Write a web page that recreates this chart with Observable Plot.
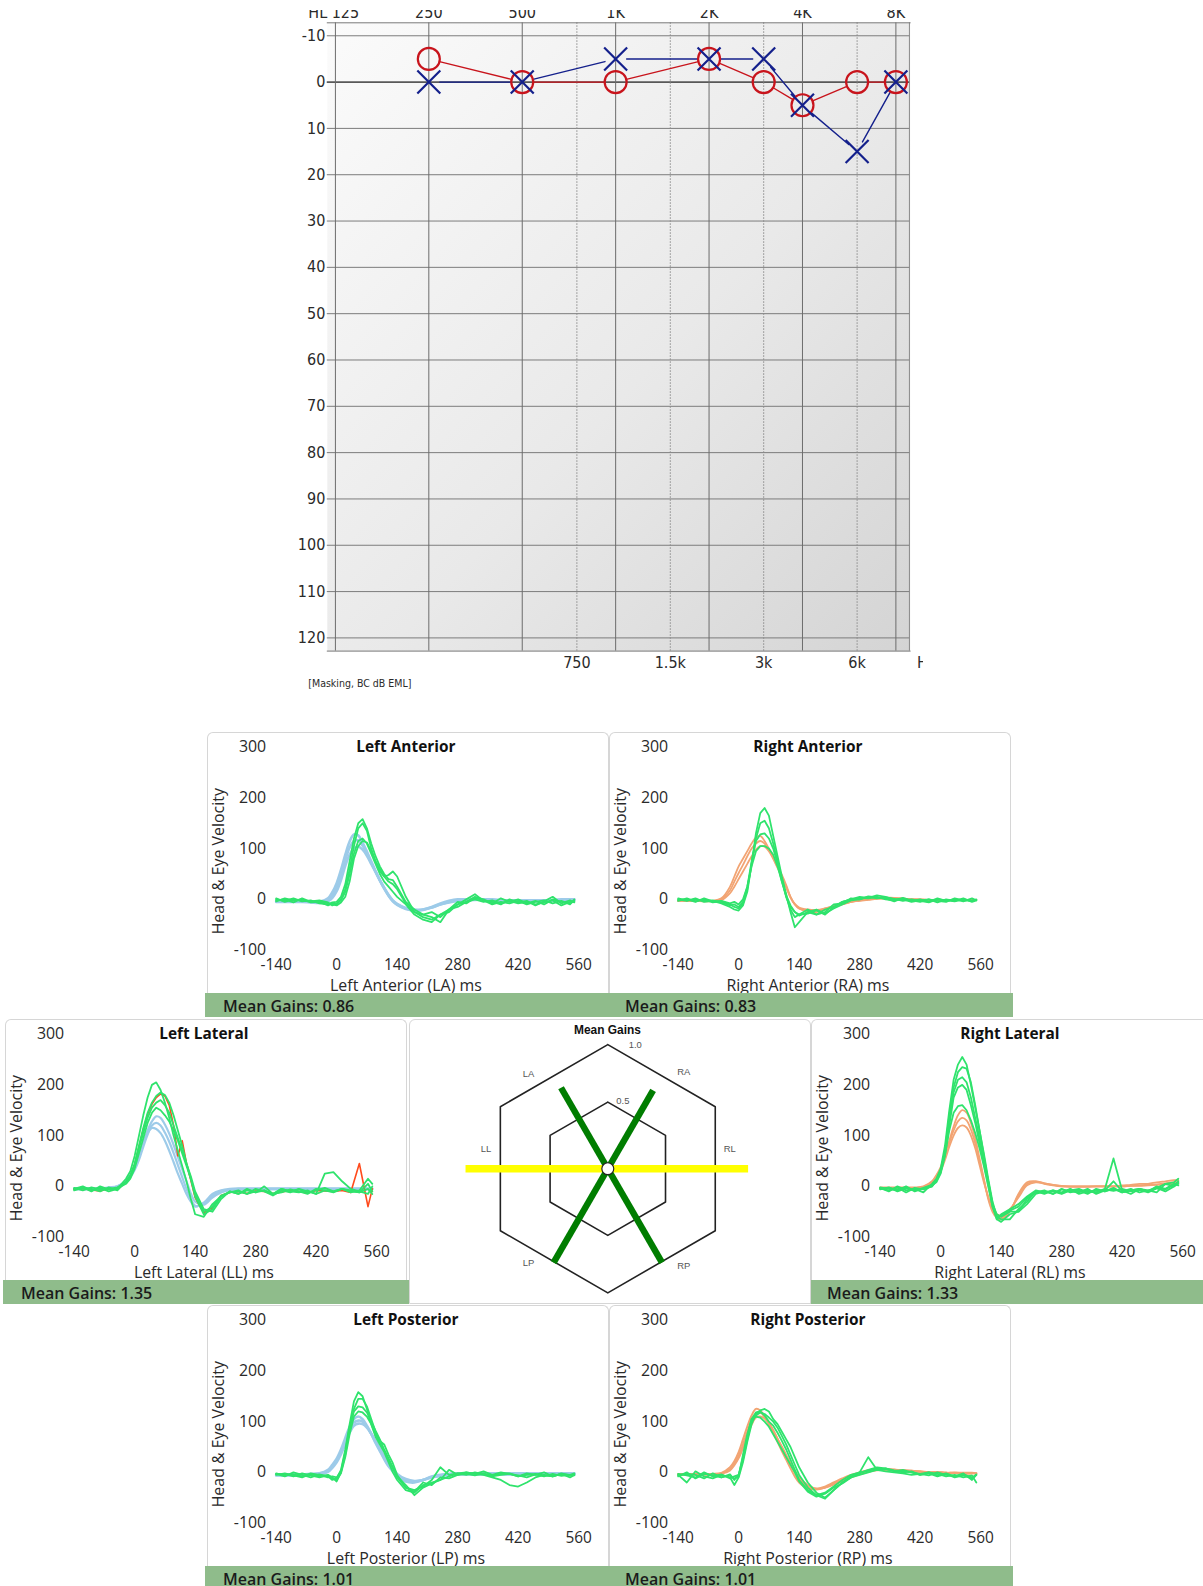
<!DOCTYPE html>
<html>
<head>
<meta charset="utf-8">
<script src="https://cdn.jsdelivr.net/npm/d3@7"></script>
<script src="https://cdn.jsdelivr.net/npm/@observablehq/plot@0.6"></script>
<style>
  html, body { margin: 0; padding: 0; background: #fff; }
  #page { position: relative; width: 1203px; height: 1586px; overflow: hidden; background: #fff; }
  #audio { position: absolute; left: 0; top: 0; width: 923px; height: 700px; overflow: hidden; clip-path: inset(10px 0 0 0); }
  #audio svg { position: absolute; left: 0; top: 0; }
  .panel { position: absolute; width: 402px; height: 285px; box-sizing: border-box; background: #fff;
           border: 1.5px solid #d6d6d6; border-bottom: none; border-radius: 6px 6px 0 0; }
  .panel svg { position: absolute; left: -1.5px; top: -1.5px; }
  .bar { position: absolute; left: -3px; right: -3px; bottom: 0; height: 24px; background: #8fbc8b;
         font: 600 16px "Open Sans", sans-serif; color: #1b1b1b; line-height: 26px; padding-left: 18px; box-sizing: border-box; white-space: nowrap; }
</style>
</head>
<body>
<div id="page"><div id="audio"></div></div>
<script>
// ---------------- Audiogram data ----------------
const FREQS = [250, 500, 1000, 2000, 3000, 4000, 6000, 8000];
const RIGHT_DB = [-5, 0, 0, -5, 0, 5, 0, 0];      // red circles
const LEFT_DB  = [0, 0, -5, -5, -5, 5, 15, 0];    // blue crosses
const OCTAVE_FREQS = [125, 250, 500, 1000, 2000, 4000, 8000];
const TOP_LABELS = ["HL 125", "250", "500", "1K", "2K", "4K", "8K"];
const MID_FREQS = [750, 1500, 3000, 6000];
const MID_LABELS = ["750", "1.5k", "3k", "6k"];
const DB_TICKS = [-10, 0, 10, 20, 30, 40, 50, 60, 70, 80, 90, 100, 110, 120];
const AUDIO_NOTE = "[Masking, BC dB EML]";

// ---------------- vHIT data ----------------
const TIME_MS = [-140,-120,-100,-80,-60,-40,-20,-10,0,10,20,30,40,50,60,70,80,90,100,110,120,130,140,160,180,200,220,240,260,280,300,320,340,360,380,400,420,440,460,480,500,520,540,550];
const X_TICKS = [-140, 0, 140, 280, 420, 560];
const Y_TICKS = [-100, 0, 100, 200, 300];
const Y_TITLE = "Head & Eye Velocity";

const LA_HEAD = [
  [-3,-3,-3,-3,-4,-5,2,14, 32,58,88,114,128,126,112,94,75,56,38,22,8,-3,-10, -18,-22,-20,-15,-8,-3,0,0,0,0,0,-2,-2,-2,-2,-2,-2,-2,0,0,0],
  [-4,-4,-4,-4,-5,-6,-1,8, 24,48,78,102,115,116,106,90,72,54,37,21,7,-4,-11, -19,-22,-21,-16,-10,-5,-2,-1,0,0,-1,-2,-3,-3,-3,-3,-2,-2,-1,-1,-1],
  [-5,-5,-5,-5,-6,-7,-4,3, 16,38,66,88,100,104,98,86,70,54,38,23,9,-2,-9, -17,-20,-20,-16,-10,-6,-3,-2,-1,-1,-2,-3,-4,-4,-3,-3,-3,-2,-2,-2,-2]
];
const LA_EYE = [
  [0,-3,2,-4,-2,-8,-10,-6, -5,5,30,75,120,150,158,140,110,85,65,50,40,38,25, -5,-20,-30,-25,-35,-20,-15,-5,5,0,-8,2,-5,0,-8,-3,-10,0,-5,-8,-3],
  [-4,2,-2,0,-6,-5,-12,-8, -10,0,20,60,105,140,150,135,100,75,55,45,48,55,45, 5,-25,-35,-40,-30,-25,-10,0,10,-3,-5,-10,0,-6,-3,-12,-4,5,-8,-2,-6],
  [2,-5,0,-3,-4,-2,-6,-12, -8,-2,15,50,90,115,120,110,90,70,50,35,25,15,5, -10,-30,-40,-45,-30,-20,-5,-8,3,-2,-10,-5,-8,-3,-10,-5,-2,-8,-3,-10,0],
  [-2,0,-6,2,-5,-3,-8,-10, -12,-6,5,35,80,105,115,112,95,75,60,45,35,30,20, -8,-25,-30,-35,-45,-20,-10,-5,0,-5,-2,-8,-3,-8,-5,-10,-6,-2,-12,-5,-4]
];

const RA_HEAD = [
  [-2,-2,-2,-3,-3,2,25,45, 65,80,95,110,122,125,115,100,82,65,48,28,5,-10,-18, -24,-25,-20,-15,-10,-5,-2,0,2,3,3,2,0,0,-1,-1,-1,-1,-1,-1,-1],
  [-3,-3,-3,-3,-3,0,18,35, 52,68,85,100,110,115,110,98,82,64,45,25,4,-10,-18, -22,-22,-18,-14,-9,-5,-2,0,2,2,2,1,0,0,-1,-1,-1,-1,-1,-1,-1],
  [-3,-3,-3,-4,-4,-2,12,25, 40,55,70,85,98,105,104,95,80,62,44,24,4,-9,-16, -20,-21,-18,-13,-9,-5,-3,-1,1,2,1,0,0,-1,-1,-1,-1,-1,-1,-1,-1]
];
const RA_EYE = [
  [0,-3,2,-5,-3,-8,-15,-20, -22,-12,15,70,130,170,180,165,125,85,45,10,-25,-55,-45, -25,-30,-20,-15,-5,0,5,3,8,5,0,2,-3,0,-5,2,-3,0,-4,2,-2],
  [-3,2,-4,0,-6,-4,-10,-15, -18,-8,20,70,120,150,155,140,110,75,40,5,-20,-35,-30, -20,-30,-25,-10,-8,2,0,6,4,2,-4,3,-2,-5,0,-3,-5,2,-2,-3,0],
  [2,-2,0,-3,-2,-6,-12,-10, -15,-5,25,75,115,128,130,120,100,70,35,5,-15,-25,-30, -28,-22,-30,-15,-5,0,3,2,5,0,-2,0,-5,-2,0,-6,0,-3,2,-5,-2],
  [-1,0,-5,2,-4,-3,-8,-5, -10,0,25,65,95,105,105,100,88,65,35,8,-12,-25,-32, -25,-20,-28,-18,-10,-2,0,5,2,4,1,-3,0,-3,-6,0,-2,-4,0,-3,-1]
];

const LL_HEAD = [
  [-5,-5,-5,-5,-3,0,10,20, 35,58,85,110,128,138,135,122,104,82,58,34,10,-14,-30, -36,-22,-12,-7,-5,-5,-5,-5,-5,-5,-5,-5,-5,-5,-5,-5,-5,-5,-5,-5,-5],
  [-6,-6,-6,-6,-4,-2,8,18, 32,52,78,102,120,125,120,106,88,66,42,18,-5,-25,-38, -35,-18,-10,-7,-6,-6,-6,-6,-6,-6,-6,-6,-6,-6,-6,-6,-6,-6,-6,-6,-6],
  [-4,-4,-4,-4,-2,0,12,25, 40,60,85,105,115,113,105,90,70,48,25,5,-15,-30,-40, -32,-15,-8,-5,-4,-4,-4,-4,-4,-4,-4,-4,-4,-4,-4,-4,-4,-4,-4,-4,-4]
];
const LL_EYE = [
  [-5,0,-8,-3,-10,-5,15,30, 60,100,140,175,200,205,190,165,135,100,70,40,10,-25,-55, -60,-35,-20,-10,-15,-5,-12,-8,-15,-5,-10,-6,-12,-8,-3,-10,-5,-8,-12,5,-10],
  [-8,-3,-5,-10,-2,-8,10,22, 45,80,115,145,165,178,185,180,165,140,110,80,45,15,-20, -55,-45,-20,-12,-8,-15,-10,-8,-15,-12,-6,-10,-15,-5,-8,-12,-5,-10,-12,-5,-15],
  [-3,-8,-2,-6,-5,-2,8,20, 40,75,105,135,155,165,170,160,145,120,95,70,45,20,-10, -45,-50,-25,-10,-15,-8,-12,0,-15,-5,-10,-12,-8,-15,25,28,10,-5,-10,-15,0],
  [-5,-2,-10,0,-6,-4,5,15, 35,65,95,125,145,155,150,140,128,110,90,65,40,15,-15, -50,-40,-18,-12,-10,-15,-5,-10,-18,-8,-12,-5,-10,-15,-8,-10,-5,-12,-8,15,5]
];
const LL_RED = [
  [-6,-4,-7,-9,-4,-6,9,20, 42,78,112,142,162,175,182,178,160,120,60,90,45,12,-22, -52,-42,-18,-12,-10,-14,-9,-10,-14,-11,-8,-10,-13,-8,-9,-10,-8,-12,45,-40,-5]
];

const RL_HEAD = [
  [-2,-2,-2,-2,-2,0,10,22, 38,62,90,118,140,150,145,125,95,55,15,-25,-50,-62,-65, -50,-15,8,10,5,2,0,0,0,0,0,0,0,2,3,5,5,8,10,12,12],
  [-3,-3,-3,-3,-3,-1,8,20, 35,58,85,110,128,135,130,112,85,50,12,-22,-45,-58,-62, -48,-18,5,10,6,3,0,-1,-1,-1,0,0,0,0,1,2,3,4,6,8,8],
  [-3,-3,-3,-3,-3,-2,6,17, 30,52,78,100,115,120,116,100,75,42,8,-20,-42,-55,-58, -45,-22,2,8,6,3,1,0,0,0,0,0,0,0,1,1,2,3,4,5,6]
];
const RL_EYE = [
  [-3,-10,0,-8,-5,-12,5,15, 35,80,150,210,240,255,240,200,155,110,60,10,-35,-65,-70, -55,-50,-35,-15,-10,-15,-5,-12,-8,-15,-5,-10,-3,-12,-8,-5,-10,-3,5,0,10],
  [-6,-2,-10,-4,-8,-3,3,12, 30,70,140,195,225,235,232,205,160,110,65,15,-30,-60,-65, -65,-45,-30,-10,-15,-8,-12,-5,-15,-10,-12,-5,55,-8,-15,-5,-8,-12,5,8,15],
  [-4,-8,-2,-12,-3,-6,0,10, 28,65,130,185,210,215,205,175,135,95,55,10,-35,-55,-60, -50,-50,-25,-12,-8,-15,-6,-10,-12,-5,-15,-8,10,-10,-5,-12,-8,-3,-10,0,5],
  [-2,-5,-8,0,-10,-4,2,8, 25,60,120,175,195,200,190,160,125,85,45,5,-40,-65,-55, -45,-35,-20,-8,-12,-10,-15,-8,-5,-12,-8,-10,-5,-12,-8,-5,-10,0,-5,5,2],
  [-5,-3,-6,-2,-8,-5,0,12, 30,62,110,145,158,160,150,130,105,75,40,0,-40,-60,-58, -48,-40,-22,-10,-12,-8,-14,-6,-10,-8,-12,-6,-9,-5,-10,-7,-12,-4,-6,3,8]
];

const LP_HEAD = [
  [-4,-4,-4,-4,-3,-2,5,15, 27,45,68,90,105,110,105,92,76,58,42,26,12,2,-8, -18,-20,-15,-8,-5,-3,-2,-2,-2,-2,-2,-2,-2,-2,-2,-2,-2,-2,-2,-2,-2],
  [-5,-5,-5,-5,-4,-3,3,12, 24,40,62,84,98,102,100,90,76,60,44,28,14,4,-5, -15,-18,-15,-9,-6,-4,-3,-3,-3,-3,-3,-3,-3,-3,-3,-3,-3,-3,-3,-3,-3],
  [-6,-6,-6,-6,-5,-4,1,9, 20,36,56,78,92,96,95,88,76,62,47,32,18,7,-3, -13,-17,-15,-10,-7,-5,-4,-4,-4,-4,-4,-4,-4,-4,-4,-4,-4,-4,-4,-4,-4]
];
const LP_EYE = [
  [-3,-8,0,-5,-10,-4,-8,-15, -12,5,45,95,140,158,150,125,95,70,55,40,20,0,-15, -35,-40,-25,-20,-15,5,-5,0,-3,2,-5,0,-3,-8,-2,-5,0,-8,-3,-10,-5],
  [-5,-2,-6,-10,-3,-8,-5,-10, -18,0,35,85,125,145,145,130,105,80,62,55,35,18,-5, -30,-35,-28,-15,10,-5,-2,-5,0,-4,-6,-3,-2,-8,-5,-3,-6,-8,-2,-6,-4],
  [-2,-6,-4,-8,-2,-5,-10,-8, -10,2,40,90,120,130,128,118,100,82,65,45,28,10,-8, -25,-45,-30,-22,-15,-8,-2,0,-3,-5,-10,-15,-25,-28,-20,-10,-5,-8,-3,-5,-2],
  [-4,-3,-8,-2,-6,-10,-6,-12, -15,-2,30,75,110,120,118,110,95,75,58,42,25,8,-10, -30,-38,-20,-25,-10,-12,-5,-3,-6,-2,-8,-5,-3,-6,-10,-4,-8,-3,-7,-5,-6]
];

const RP_HEAD = [
  [-3,-3,-3,-3,-3,-1,10,22, 40,65,90,112,125,122,110,95,78,60,42,25,8,-8,-20, -32,-33,-28,-20,-12,-5,0,4,6,6,5,3,2,1,0,0,-1,-1,-1,-1,-2],
  [-4,-4,-4,-4,-4,-2,6,18, 33,55,80,102,116,118,110,98,83,66,50,33,16,0,-14, -28,-34,-30,-22,-15,-8,-2,2,5,6,5,4,3,1,0,0,-1,-1,-2,-2,-2],
  [-4,-4,-4,-4,-4,-3,4,14, 28,48,72,94,108,110,106,96,82,66,50,34,18,3,-10, -25,-32,-30,-24,-17,-10,-4,1,4,5,5,4,3,2,0,0,-1,-1,-2,-2,-2]
];
const RP_EYE = [
  [-5,-20,2,-8,-12,-5,-10,-25, -10,20,60,95,115,122,125,120,105,95,80,65,50,30,10, -20,-40,-50,-35,-20,-10,0,30,5,8,2,5,0,-5,0,-3,-8,-5,-10,-6,-20],
  [-8,0,-12,-3,-6,-10,-4,-15, -5,30,70,105,118,120,112,100,92,78,62,45,25,5,-15, -35,-45,-40,-28,-15,-5,0,3,8,6,3,0,2,-5,-2,-8,-3,-10,-6,-12,-4],
  [-3,-6,-10,0,-8,-4,-12,-8, -5,25,65,100,112,118,115,108,100,88,72,55,35,15,-5, -30,-45,-52,-35,-20,-8,-2,5,10,8,4,2,0,-3,-6,0,-5,-8,-2,-15,-5],
  [-6,-3,-5,-12,-2,-10,-6,-12, -8,35,75,105,110,108,100,90,75,60,45,30,15,0,-18, -38,-48,-42,-30,-22,-10,-5,0,5,2,0,-2,-5,-3,0,-6,-2,-8,-4,-10,-5]
];

const CANALS = ["LA", "RA", "LL", "RL", "LP", "RP"];
const CANAL_TITLES = ["Left Anterior", "Right Anterior", "Left Lateral", "Right Lateral", "Left Posterior", "Right Posterior"];
const MEAN_GAINS = [0.86, 0.83, 1.35, 1.33, 1.01, 1.01];
const RING_GAINS = [0.5, 1.0];
const RING_LABELS = ["0.5", "1.0"];

// ---------------- styles ----------------
const RED = "#c8141c", NAVY = "#14208c";
const BLUE_HEAD = "#9dcbe9", ORANGE_HEAD = "#f2a473", GREEN_EYE = "#2fe36c", RED_EYE = "#ff4a1c";
const NARROW = "'Liberation Sans Narrow', 'DejaVu Sans Condensed', 'Arial Narrow', 'Liberation Sans', sans-serif";
const UI = "'Open Sans', 'Noto Sans', sans-serif";

const page = document.getElementById("page");

// ---------------- Audiogram ----------------
function segs(xs, ys) {
  const out = [];
  for (let i = 0; i < xs.length - 1; i++) out.push({x1: xs[i], y1: ys[i], x2: xs[i + 1], y2: ys[i + 1]});
  return out;
}
const bgDefs = () => {
  const g = d3.create("svg:g");
  const lg = g.append("defs").append("linearGradient").attr("id", "audioBg")
    .attr("x1", 0).attr("y1", 0).attr("x2", 1).attr("y2", 1);
  lg.append("stop").attr("offset", 0).attr("stop-color", "#fbfbfb");
  lg.append("stop").attr("offset", 0.55).attr("stop-color", "#e9e9e9");
  lg.append("stop").attr("offset", 1).attr("stop-color", "#d4d4d4");
  return g.node();
};
const rightPts = FREQS.map((f, i) => ({f, db: RIGHT_DB[i]}));
const leftPts = FREQS.map((f, i) => ({f, db: LEFT_DB[i]}));

const audio = Plot.plot({
  width: 923, height: 700,
  marginLeft: 326.8, marginRight: 13.4, marginTop: 22.3, marginBottom: 49.4,
  x: {type: "log", domain: [117.7, 8890], axis: null},
  y: {domain: [122.85, -12.8], axis: null},
  style: {fontFamily: NARROW, fontSize: "16px", color: "#2a2a2a", background: "transparent"},
  marks: [
    bgDefs,
    Plot.frame({fill: "url(#audioBg)", stroke: null}),
    Plot.ruleY(DB_TICKS, {stroke: "#7c7c7c", strokeWidth: 1}),
    Plot.ruleY([0], {stroke: "#3c3c3c", strokeWidth: 1.3}),
    Plot.ruleX(OCTAVE_FREQS, {stroke: "#6c6c6c", strokeWidth: 1}),
    Plot.ruleX([8890 * 0.995], {stroke: "#8a8a8a", strokeWidth: 1}),
    Plot.ruleX(MID_FREQS, {stroke: "#8a8a8a", strokeWidth: 1, strokeDasharray: "1.5,1.5"}),
    Plot.frame({anchor: "top", stroke: "#7a7a7a"}),
    Plot.frame({anchor: "bottom", stroke: "#7a7a7a"}),
    Plot.axisY(DB_TICKS, {tickSize: 0, tickPadding: 2, tickFormat: d => String(d), label: null, fontSize: 16}),
    Plot.text(OCTAVE_FREQS.slice(1), {x: d => d, text: TOP_LABELS.slice(1), frameAnchor: "top", dy: -10, lineAnchor: "middle", fontSize: 16}),
    Plot.text([TOP_LABELS[0]], {frameAnchor: "top-left", dx: -19, dy: -10, textAnchor: "start", lineAnchor: "middle", fontSize: 16}),
    Plot.text(MID_FREQS, {x: d => d, text: MID_LABELS, frameAnchor: "bottom", dy: 11.5, lineAnchor: "middle", fontSize: 16}),
    Plot.text(["Hz"], {frameAnchor: "bottom-right", dx: 7, dy: 11.5, textAnchor: "start", lineAnchor: "middle", fontSize: 16}),
    Plot.text([AUDIO_NOTE], {frameAnchor: "bottom-left", dx: -19, dy: 32.5, textAnchor: "start", lineAnchor: "middle", fontSize: 10.5}),
    Plot.arrow(segs(FREQS, RIGHT_DB), {x1: "x1", y1: "y1", x2: "x2", y2: "y2", stroke: RED, strokeWidth: 1.4, headLength: 0, inset: 11}),
    Plot.arrow(segs(FREQS, LEFT_DB), {x1: "x1", y1: "y1", x2: "x2", y2: "y2", stroke: NAVY, strokeWidth: 1.4, headLength: 0, inset: 11}),
    Plot.dot(rightPts, {x: "f", y: "db", r: 11, stroke: RED, strokeWidth: 2.2, fill: "none"}),
    Plot.dot(leftPts, {x: "f", y: "db", r: 10.5, symbol: "times", stroke: NAVY, strokeWidth: 2.2})
  ]
});
document.getElementById("audio").appendChild(audio);

// ---------------- vHIT panels ----------------
function tracesToRows(traces, kind) {
  const rows = [];
  traces.forEach((tr, i) => tr.forEach((v, j) => {
    if (j < TIME_MS.length) rows.push({t: TIME_MS[j], v, id: kind + i});
  }));
  return rows;
}

function vhitPlot(p) {
  const marks = [
    Plot.axisX(X_TICKS, {tickSize: 0, tickPadding: 8.5, tickFormat: d => String(d), label: null, fontSize: 15.5}),
    Plot.axisY(Y_TICKS, {tickSize: 0, tickPadding: 10, tickFormat: d => String(d), label: null, fontSize: 16}),
    Plot.line(tracesToRows(p.head, "h"), {x: "t", y: "v", z: "id", stroke: p.headColor, strokeWidth: p.headWidth, curve: "catmull-rom"})
  ];
  if (p.extra) marks.push(Plot.line(tracesToRows(p.extra, "r"), {x: "t", y: "v", z: "id", stroke: RED_EYE, strokeWidth: 1.6}));
  marks.push(
    Plot.line(tracesToRows(p.eye, "e"), {x: "t", y: "v", z: "id", stroke: GREEN_EYE, strokeWidth: 1.8}),
    Plot.text([p.title], {frameAnchor: "top", dx: -21.6, dy: 0, lineAnchor: "middle", fontWeight: 700, fontSize: 15.5, fill: "#111"}),
    Plot.text([p.title + " (" + p.key + ") ms"], {frameAnchor: "bottom", dx: -21.6, dy: 35.5, lineAnchor: "middle", fontSize: 16, fill: "#2a2a2a"}),
    Plot.text([Y_TITLE], {frameAnchor: "left", rotate: -90, dx: -58, dy: 12.7, textAnchor: "middle", lineAnchor: "middle", fontSize: 16, fill: "#2a2a2a"})
  );
  return Plot.plot({
    width: 402, height: 261,
    marginLeft: 69, marginRight: 29, marginTop: 14.7, marginBottom: 42.3,
    x: {domain: [-140, 560], axis: null},
    y: {domain: [-100, 300], axis: null},
    style: {fontFamily: UI, fontSize: "16px", color: "#2a2a2a", background: "transparent", overflow: "visible"},
    marks
  });
}

const PANEL_POS = {LA: [207, 732], RA: [609, 732], LL: [5, 1019], RL: [811, 1019], LP: [207, 1305], RP: [609, 1305]};
const PANEL_DATA = {
  LA: {head: LA_HEAD, eye: LA_EYE, headColor: BLUE_HEAD, headWidth: 2.6},
  RA: {head: RA_HEAD, eye: RA_EYE, headColor: ORANGE_HEAD, headWidth: 1.8},
  LL: {head: LL_HEAD, eye: LL_EYE, extra: LL_RED, headColor: BLUE_HEAD, headWidth: 2.2},
  RL: {head: RL_HEAD, eye: RL_EYE, headColor: ORANGE_HEAD, headWidth: 1.8},
  LP: {head: LP_HEAD, eye: LP_EYE, headColor: BLUE_HEAD, headWidth: 2.6},
  RP: {head: RP_HEAD, eye: RP_EYE, headColor: ORANGE_HEAD, headWidth: 2.0}
};

CANALS.forEach((key, i) => {
  const div = document.createElement("div");
  div.className = "panel";
  div.style.left = PANEL_POS[key][0] + "px";
  div.style.top = PANEL_POS[key][1] + "px";
  div.appendChild(vhitPlot({key, title: CANAL_TITLES[i], ...PANEL_DATA[key]}));
  const bar = document.createElement("div");
  bar.className = "bar";
  bar.textContent = "Mean Gains: " + MEAN_GAINS[i].toFixed(2);
  div.appendChild(bar);
  page.appendChild(div);
});

// ---------------- Mean gains hexagon ----------------
const R_SCALE = d3.scaleLinear([0, 1], [8, 108]); // gain -> apothem (px)
const CANAL_ANGLE = {LA: 120, RA: 60, LL: 180, RL: 0, LP: 240, RP: 300};
const LABEL_ANGLE = {LA: 130, RA: 52, LL: 171, RL: 9, LP: 230, RP: 308};
const rad = a => a * Math.PI / 180;
const COS30 = Math.cos(rad(30));

const ringRows = [];
RING_GAINS.forEach(g => {
  const R = R_SCALE(g) / COS30;
  for (let k = 0; k <= 6; k++) ringRows.push({ring: g, x: R * Math.cos(rad(90 + 60 * k)), y: R * Math.sin(rad(90 + 60 * k))});
});
const ringLabelRows = RING_GAINS.map((g, i) => {
  const R = R_SCALE(g) / COS30 + 3;
  return {x: R * Math.cos(rad(77.5)), y: R * Math.sin(rad(77.5)), label: RING_LABELS[i]};
});
const gainRows = CANALS.map((c, i) => {
  const r = R_SCALE(MEAN_GAINS[i]);
  return {c, x2: r * Math.cos(rad(CANAL_ANGLE[c])), y2: r * Math.sin(rad(CANAL_ANGLE[c])), lateral: c === "LL" || c === "RL"};
});
const canalLabelRows = CANALS.map(c => ({c, x: 124 * Math.cos(rad(LABEL_ANGLE[c])), y: 124 * Math.sin(rad(LABEL_ANGLE[c]))}));

const hex = Plot.plot({
  width: 402, height: 283, margin: 0,
  x: {domain: [-199.3, 202.7], axis: null},
  y: {domain: [-133, 150], axis: null},
  style: {fontFamily: "'Liberation Sans', Arial, sans-serif", background: "transparent"},
  marks: [
    Plot.line(ringRows, {x: "x", y: "y", z: "ring", stroke: "#222", strokeWidth: 1.6}),
    Plot.link(gainRows, {x1: () => 0, y1: () => 0, x2: "x2", y2: "y2", stroke: d => d.lateral ? "#ffff00" : "#007d00", strokeWidth: d => d.lateral ? 7.5 : 6.5}),
    Plot.dot([0], {x: () => 0, y: () => 0, r: 6, fill: "#fff", stroke: "#222", strokeWidth: 1.2}),
    Plot.text(ringLabelRows, {x: "x", y: "y", text: "label", fontSize: 9.5, fill: "#555"}),
    Plot.text(canalLabelRows, {x: "x", y: "y", text: "c", fontSize: 9.5, fill: "#555"}),
    Plot.text(["Mean Gains"], {frameAnchor: "top", dx: -2, dy: 11, lineAnchor: "middle", fontSize: 12, fontWeight: 800, fill: "#111"})
  ]
});
const hexDiv = document.createElement("div");
hexDiv.className = "panel";
hexDiv.style.left = "409px";
hexDiv.style.top = "1019px";
hexDiv.style.borderBottom = "1.5px solid #d6d6d6";
hexDiv.appendChild(hex);
page.appendChild(hexDiv);
</script>
